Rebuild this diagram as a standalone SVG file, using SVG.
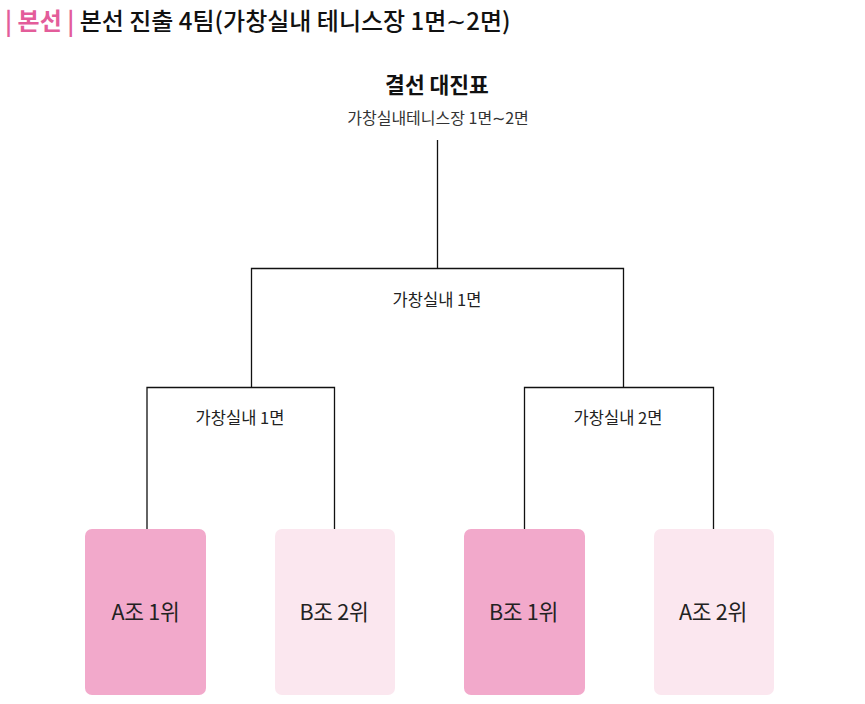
<svg xmlns="http://www.w3.org/2000/svg" width="865" height="704" viewBox="0 0 865 704">
<style>
text{font-family:"Noto Sans CJK KR","Noto Sans",sans-serif;fill:#222}
.title{font-size:24px;font-weight:500;fill:#111}
.pk{fill:#e35d9a;font-weight:bold}
.h{font-size:21.5px;font-weight:bold;text-anchor:middle;fill:#111}
.s{font-size:16px;text-anchor:middle;fill:#333}
.lbl{font-size:16.5px;text-anchor:middle}
.box{font-size:21.5px;text-anchor:middle;letter-spacing:-0.3px}
.dark{fill:#f2a9cb}
.light{fill:#fbe7ef}
.ln{fill:none;stroke:#111;stroke-width:1.3}
</style>
<rect width="865" height="704" fill="#fff"/>
<text class="title" x="5" y="30"><tspan class="pk">| 본선 |</tspan><tspan> 본선 진출 4팀(가창실내 테니스장 1면∼2면)</tspan></text>
<g id="header">
<text class="h" x="437" y="93">결선 대진표</text>
<text class="s" x="438" y="124">가창실내테니스장 1면∼2면</text>
</g>
<g id="connectors">
<path class="ln" d="M437.5 140 V268.5 M251.5 387 V268.5 H623.5 V387"/>
<path class="ln" d="M147 529 V387.5 H334.5 V529"/>
<path class="ln" d="M524.5 529 V387.5 H713.5 V529"/>
</g>
<text class="lbl" x="437" y="306">가창실내 1면</text>
<text class="lbl" x="240" y="424">가창실내 1면</text>
<text class="lbl" x="618" y="424">가창실내 2면</text>
<g id="a1"><rect class="dark" x="85" y="529" width="121" height="166" rx="7"/><text class="box" x="145.5" y="620">A조 1위</text></g>
<g id="b2"><rect class="light" x="275" y="529" width="120" height="166" rx="7"/><text class="box" x="334" y="620">B조 2위</text></g>
<g id="b1"><rect class="dark" x="464" y="529" width="121" height="166" rx="7"/><text class="box" x="523.5" y="620">B조 1위</text></g>
<g id="a2"><rect class="light" x="654" y="529" width="120" height="166" rx="7"/><text class="box" x="713" y="620">A조 2위</text></g>
</svg>
